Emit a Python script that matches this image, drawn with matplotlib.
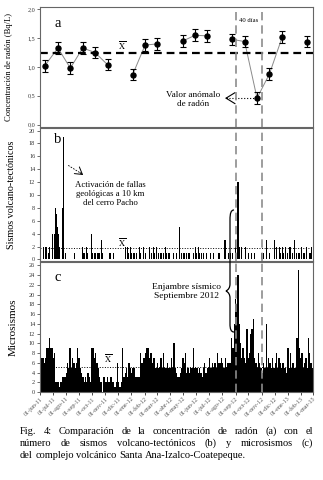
import matplotlib
matplotlib.use('Agg')
import matplotlib.pyplot as plt
import matplotlib.dates as mdates
import numpy as np
from matplotlib.path import Path
from matplotlib.patches import PathPatch

plt.rcParams['font.family'] = ['Liberation Serif', 'DejaVu Serif']
plt.rcParams['mathtext.fontset'] = 'stix'

# --- data ---
start = np.datetime64('2011-06-01')
end = np.datetime64('2013-03-01')
meses = ['ene', 'feb', 'mar', 'abr', 'may', 'jun', 'jul', 'ago', 'sep', 'oct', 'nov', 'dic']

# (a) radon concentration, Bq/L
radon_dates = ['2011-06-12', '2011-07-13', '2011-08-11', '2011-09-09', '2011-10-08', '2011-11-06',
               '2012-01-04', '2012-02-02', '2012-03-01', '2012-04-30', '2012-05-29', '2012-06-26',
               '2012-08-24', '2012-09-22', '2012-10-21', '2012-11-19', '2012-12-19', '2013-02-15']
radon_vals = [1.02, 1.33, 0.98, 1.33, 1.25, 1.04, 0.87, 1.38, 1.40, 1.45, 1.55, 1.54,
              1.48, 1.44, 0.46, 0.88, 1.52, 1.44]
radon_err = [0.10] * 18
radon_group = [0, 0, 0, 0, 0, 0, 1, 1, 1, 2, 2, 2, 3, 3, 3, 3, 3, 4]
radon_mean = 1.24

# (b) volcano-tectonic events, days since 2011-06-01
vt_day = [8, 12, 16, 19, 22, 23, 30, 33, 36, 38, 41, 43, 45, 53, 55, 60, 80,
          100, 103, 108, 111, 121, 123, 127, 130, 134, 137, 140, 144, 147, 162, 165, 172,
          199, 201, 204, 207, 211, 215, 218, 222, 226, 232, 235, 242, 248,
          257, 261, 265, 269, 273, 277, 281, 285, 289, 293, 296, 300, 304,
          312, 320, 327, 331, 335, 339, 343, 347, 351, 359, 363, 366, 370, 374, 378, 382,
          390, 398, 405, 417, 421, 433, 441, 447, 450,
          457, 462, 464, 466, 471, 482, 487, 494, 503, 519, 522, 530, 538, 550, 554, 560,
          563, 568, 571, 575, 579, 583, 586, 591, 596, 600, 604, 608, 612, 616, 620, 624, 632, 636]
vt_count = [2, 2, 2, 1, 2, 1, 4, 4, 8, 7, 5, 4, 2, 8, 19, 1, 1,
            2, 1, 2, 1, 4, 1, 1, 1, 1, 1, 1, 3, 1, 1, 1, 1,
            2, 2, 2, 1, 2, 1, 1, 1, 1, 2, 1, 2, 1,
            2, 1, 2, 1, 2, 1, 1, 1, 1, 2, 1, 1, 1,
            1, 1, 5, 1, 1, 1, 1, 1, 1, 1, 2, 1, 2, 1, 1, 1,
            1, 1, 1, 1, 1, 3, 1, 1, 1,
            3, 12, 12, 2, 2, 2, 1, 1, 1, 1, 1, 3, 1, 3, 2, 2,
            1, 2, 1, 2, 1, 2, 2, 1, 3, 1, 1, 1, 2, 1, 1, 2, 1, 2]
vt_mean = 1.7

# (c) microseisms, one value per 3-day bin starting 2011-06-01
micro_bin_days = 3
micro_vals = [9, 7, 7, 6, 7, 9, 9, 11, 9, 9,
              7, 8, 2, 2, 2, 1, 2, 3, 3, 3,
              4, 6, 5, 9, 5, 7, 6, 5, 6, 9,
              7, 5, 4, 3, 2, 3, 2, 4, 3, 2,
              9, 9, 7, 8, 6, 5, 3, 2, 0, 3,
              3, 2, 3, 2, 2, 3, 2, 2, 1, 2,
              6, 2, 1, 2, 9, 3, 4, 5, 3, 6,
              5, 4, 5, 5, 3, 3, 3, 3, 8, 6,
              7, 7, 8, 9, 9, 7, 8, 6, 7, 7,
              5, 6, 5, 5, 7, 5, 8, 5, 5, 6,
              5, 5, 7, 5, 10, 5, 4, 3, 3, 4,
              5, 7, 6, 8, 4, 5, 4, 5, 5, 9,
              5, 5, 5, 4, 5, 4, 3, 5, 6, 4,
              5, 5, 7, 5, 6, 5, 6, 5, 8, 6,
              6, 7, 6, 5, 7, 5, 6, 6, 6, 11,
              9, 14, 19, 18, 24, 14, 10, 7, 9, 7,
              6, 13, 7, 8, 12, 13, 15, 7, 6, 5,
              8, 6, 5, 4, 6, 5, 14, 5, 7, 6,
              5, 7, 5, 6, 8, 5, 7, 6, 5, 6,
              5, 5, 4, 9, 5, 8, 5, 6, 5, 5,
              11, 25, 9, 7, 8, 5, 6, 7, 5, 11,
              8, 6, 5]
micro_mean = 5.1

window_dates = ['2012-09-01', '2012-11-01']

caption = ['Fig. 4: Comparación de la concentración de radón (a) con el',
           'número de sismos volcano-tectónicos (b) y microsismos (c)',
           'del complejo volcánico Santa Ana-Izalco-Coatepeque.']


def dnum(d):
    return mdates.date2num(np.datetime64(d, 'D'))


t0 = dnum(start)
W, H = 323, 480
fig = plt.figure(figsize=(W / 100, H / 100), dpi=100)


def box(left, top, right, bottom):
    return [left / W, 1 - bottom / H, (right - left) / W, (bottom - top) / H]


ax_a = fig.add_axes(box(40, 7, 313, 127))
ax_b = fig.add_axes(box(40, 128, 313, 261))
ax_c = fig.add_axes(box(40, 262, 313, 392))
axes = [ax_a, ax_b, ax_c]

# panel a
rx = np.array([dnum(d) for d in radon_dates])
rv = np.array(radon_vals)
rg = np.array(radon_group)
for g in np.unique(rg):
    ax_a.plot(rx[rg == g], rv[rg == g], color='#8a8a8a', lw=0.7, zorder=2)
ax_a.errorbar(rx, rv, yerr=radon_err, fmt='o', color='black', ms=3.6,
              capsize=2.3, elinewidth=0.8, capthick=0.8, zorder=3)
ax_a.axhline(radon_mean, color='black', ls=(0, (3.5, 2.2)), lw=1.6, zorder=2)
ax_a.set_ylim(-0.04, 2.04)
ax_a.set_yticks(np.arange(0, 2.01, 0.5))
ax_a.set_yticklabels([f'{v:.1f}'.replace('.', ',') for v in np.arange(0, 2.01, 0.5)])
ax_a.set_ylabel('Concentración de radón (Bq/L)', fontsize=6.2)
ax_a.yaxis.set_label_coords(-0.10, 0.5)

# panel b
ax_b.bar(t0 + np.array(vt_day), vt_count, width=2.4, color='black', linewidth=0)
ax_b.axhline(vt_mean, color='black', ls=':', lw=0.7)
ax_b.set_ylim(-0.25, 20.4)
ax_b.set_yticks(range(0, 21, 2))
ax_b.set_ylabel('Sismos volcano-tectónicos', fontsize=7.3)
ax_b.yaxis.set_label_coords(-0.088, 0.5)

# panel c
mx = t0 + micro_bin_days * np.arange(len(micro_vals)) + micro_bin_days / 2
ax_c.bar(mx, micro_vals, width=micro_bin_days * 1.02, color='black', linewidth=0)
ax_c.axhline(micro_mean, color='black', ls=':', lw=0.7)
ax_c.set_ylim(0, 26.7)
ax_c.set_yticks(range(0, 27, 2))
ax_c.set_ylabel('Microsismos', fontsize=8)
ax_c.yaxis.set_label_coords(-0.08, 0.5)

months = np.arange(np.datetime64('2011-06'), np.datetime64('2013-04'), dtype='datetime64[M]')
month_x = [dnum(m.astype('datetime64[D]')) for m in months]
month_lab = [f"01-{meses[int(str(m)[5:7]) - 1]}-{str(m)[2:4]}" for m in months]

for ax in axes:
    ax.set_xlim(t0, dnum(end))
    for d in window_dates:
        ax.axvline(dnum(d), color='#8c8c8c', ls=(0, (5, 3)), lw=1.2, zorder=4)
    for s in ax.spines.values():
        s.set_color('#666666')
        s.set_linewidth(0.8)
    ax.tick_params(axis='y', labelsize=4.4, length=2, width=0.5, pad=1.5, colors='#333333')
    ax.set_xticks(month_x)
    ax.tick_params(axis='x', length=0, labelbottom=False)

ax_c.set_xticklabels(month_lab)
ax_c.tick_params(axis='x', labelbottom=True, labelsize=4.3, length=2, width=0.5,
                 pad=1, labelcolor='#555555')
for lab in ax_c.get_xticklabels():
    lab.set_rotation(45)
    lab.set_ha('right')
    lab.set_rotation_mode('anchor')

# panel letters and means
for ax, letter, yf in [(ax_a, 'a', 0.865), (ax_b, 'b', 0.91), (ax_c, 'c', 0.877)]:
    ax.text(0.066, yf, letter, transform=ax.transAxes, fontsize=10.5, ha='center', va='center')
xbar = r'$\overline{\mathrm{X}}$'
ax_a.text(t0 + 192, 1.37, xbar, fontsize=6, ha='center', va='center')
ax_b.text(t0 + 192, 2.6, xbar, fontsize=6, ha='center', va='center')
ax_c.text(t0 + 160, 6.9, xbar, fontsize=6, ha='center', va='center')

# annotations
ax_a.text(np.mean([dnum(d) for d in window_dates]), 1.81, '40 días', fontsize=4.8,
          ha='center', va='center')
ax_a.text(t0 + 358, 0.43, 'Valor anómalo\nde radón', fontsize=6.6, ha='center', va='center',
          linespacing=1.15)
tip = t0 + 433
ax_a.plot([tip + 3, rx[14] - 7], [0.46, 0.46], color='black', ls=':', lw=0.8)
ax_a.annotate('', xy=(tip, 0.46), xytext=(tip + 6, 0.46),
              arrowprops=dict(arrowstyle='->,head_length=0.65,head_width=0.4', lw=0.8,
                              color='black', shrinkA=0, shrinkB=0))

ax_b.text(t0 + 164, 10.1, 'Activación de fallas\ngeológicas a 10 km\ndel cerro Pacho',
          fontsize=6.3, ha='center', va='center', linespacing=1.15)
ax_b.plot([t0 + 66, t0 + 96], [14.6, 13.35], color='black', ls=(0, (2, 1.5)), lw=0.6)
ax_b.annotate('', xy=(t0 + 101, 13.1), xytext=(t0 + 94, 13.45),
              arrowprops=dict(arrowstyle='->,head_length=0.5,head_width=0.3', lw=0.7,
                              color='black', shrinkA=0, shrinkB=0))

ax_c.text(t0 + 344, 20.7, 'Enjambre sísmico\nSeptiembre 2012', fontsize=6.8,
          ha='center', va='center', linespacing=1.15)

# curly brace spanning panels b and c (figure pixel coordinates)
bp = [(234, 210), (231, 210), (230, 213), (230, 220),
      (230, 284), (230, 289), (226, 291),
      (230, 293), (230, 298),
      (230, 324), (230, 329), (231, 332), (234, 332)]
codes = [Path.MOVETO, Path.CURVE4, Path.CURVE4, Path.CURVE4,
         Path.LINETO, Path.CURVE3, Path.CURVE3,
         Path.CURVE3, Path.CURVE3,
         Path.LINETO, Path.CURVE4, Path.CURVE4, Path.CURVE4]
path = Path([(x / W, 1 - y / H) for x, y in bp], codes)
fig.add_artist(PathPatch(path, transform=fig.transFigure, fill=False, lw=0.9,
                         edgecolor='black'))

# caption, first two lines justified
fs_cap = 7.5
renderer = fig.canvas.get_renderer()
cap_y = [431.5, 443.5, 455.5]
for i, line in enumerate(caption):
    words = line.split()
    objs = [fig.text(0, 1 - cap_y[i] / H, w, fontsize=fs_cap, va='center') for w in words]
    widths = [o.get_window_extent(renderer).width for o in objs]
    if i < 2:
        gap = (313 - 20 - sum(widths)) / (len(words) - 1)
    else:
        gap = fs_cap * 100 / 72 * 0.25
    x = 20
    for o, w in zip(objs, widths):
        o.set_x(x / W)
        x += w + gap

fig.savefig('out.png', dpi=100, facecolor='white')
